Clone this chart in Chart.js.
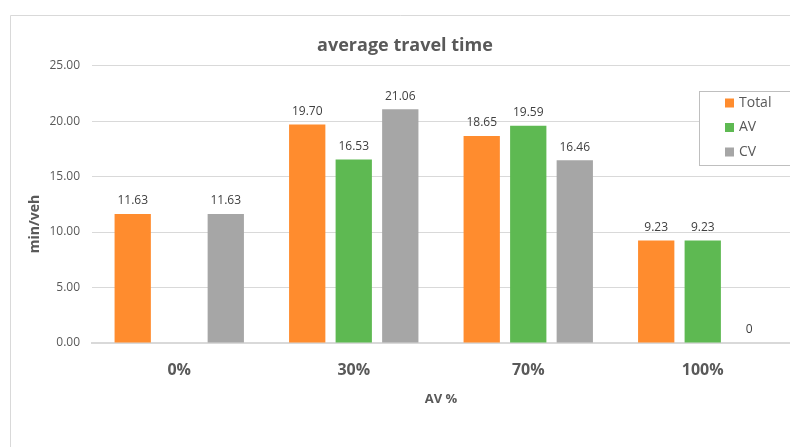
<!DOCTYPE html>
<html>
<head>
<meta charset="utf-8">
<script src="https://cdn.jsdelivr.net/npm/chart.js@4.4.0/dist/chart.umd.min.js"></script>
<style>
    html, body { margin: 0; padding: 0; background: #ffffff; }
    #wrap { width: 790px; height: 447px; }
</style>
</head>
<body>
<div id="wrap"><canvas id="travelChart" width="790" height="447"></canvas></div>
<script>
// data
const categories = ['0%', '30%', '70%', '100%'];
const totalValues = [11.63, 19.70, 18.65, 9.23];
const avValues = [null, 16.53, 19.59, 9.23];
const cvValues = [11.63, 21.06, 16.46, 0];
const yTicks = [0, 5, 10, 15, 20, 25];

const textColor = '#595959';
const gridColor = '#d9d9d9';
const fontFamily = '"Open Sans", "Noto Sans", sans-serif';

// frame round the whole chart + y axis title
const framePlugin = {
    id: 'frame',
    beforeDraw(chart) {
        const ctx = chart.ctx;
        ctx.save();
        ctx.strokeStyle = gridColor;
        ctx.lineWidth = 1;
        ctx.beginPath();
        ctx.moveTo(10.5, chart.height);
        ctx.lineTo(10.5, 15.5);
        ctx.lineTo(chart.width, 15.5);
        ctx.stroke();
        // y title a bit under the middle, like the original
        ctx.translate(35, 224);
        ctx.rotate(-Math.PI / 2);
        ctx.font = 'bold 14px ' + fontFamily;
        ctx.fillStyle = textColor;
        ctx.textAlign = 'center';
        ctx.textBaseline = 'middle';
        ctx.fillText('min/veh', 0, 0);
        ctx.restore();
    }
};

// numbers above the bars
const valueLabels = {
    id: 'valueLabels',
    afterDatasetsDraw(chart) {
        const ctx = chart.ctx;
        ctx.save();
        ctx.font = '12px ' + fontFamily;
        ctx.fillStyle = '#404040';
        ctx.textAlign = 'center';
        ctx.textBaseline = 'middle';
        chart.data.datasets.forEach((ds, i) => {
            const meta = chart.getDatasetMeta(i);
            meta.data.forEach((bar, j) => {
                const v = ds.data[j];
                if (v === null || v === undefined) return;
                const txt = v === 0 ? '0' : v.toFixed(2);
                ctx.fillText(txt, bar.x, bar.y - 13);
            });
        });
        ctx.restore();
    }
};

// legend box on the right
const boxLegend = {
    id: 'boxLegend',
    afterDraw(chart) {
        const ctx = chart.ctx;
        ctx.save();
        ctx.fillStyle = '#ffffff';
        ctx.fillRect(699.5, 91.5, 110, 74);
        ctx.strokeStyle = '#bfbfbf';
        ctx.lineWidth = 1;
        ctx.strokeRect(699.5, 91.5, 110, 74);
        ctx.font = '14px ' + fontFamily;
        ctx.textBaseline = 'middle';
        ctx.textAlign = 'left';
        chart.data.datasets.forEach((ds, i) => {
            const y = 103 + i * 24.5;
            ctx.fillStyle = ds.backgroundColor;
            ctx.fillRect(725, y - 4.5, 9, 9);
            ctx.fillStyle = textColor;
            ctx.fillText(ds.label, 739, y);
        });
        ctx.restore();
    }
};

const ctx = document.getElementById('travelChart').getContext('2d');
new Chart(ctx, {
    type: 'bar',
    data: {
        labels: categories,
        datasets: [
            { label: 'Total', data: totalValues, backgroundColor: 'rgb(255, 140, 46)' },
            { label: 'AV', data: avValues, backgroundColor: 'rgb(94, 185, 82)' },
            { label: 'CV', data: cvValues, backgroundColor: 'rgb(166, 166, 166)' }
        ]
    },
    options: {
        responsive: false,
        animation: false,
        categoryPercentage: 0.8,
        barPercentage: 0.78,
        layout: { padding: { left: 20, right: 0, top: 0, bottom: 40 } },
        plugins: {
            legend: { display: false },
            tooltip: { enabled: false },
            title: {
                display: true,
                text: 'average travel time',
                color: textColor,
                font: { family: fontFamily, size: 18, weight: 'bold' },
                padding: { top: 35, bottom: 9 }
            }
        },
        scales: {
            x: {
                grid: { display: false, drawTicks: false },
                border: { color: gridColor, width: 2 },
                afterFit(scale) { scale.height = 64; },
                ticks: {
                    color: textColor,
                    padding: 18,
                    font: { family: fontFamily, size: 16, weight: 'bold' }
                },
                title: {
                    display: true,
                    text: 'AV %',
                    color: textColor,
                    padding: { top: 0, bottom: 0 },
                    font: { family: fontFamily, size: 13, weight: 'bold' }
                }
            },
            y: {
                min: 0,
                max: 25,
                afterBuildTicks(scale) {
                    scale.ticks = yTicks.map(v => ({ value: v }));
                },
                afterFit(scale) { scale.width = 72; },
                grid: { color: gridColor, drawTicks: false },
                border: { display: false },
                ticks: {
                    color: textColor,
                    padding: 12,
                    font: { family: fontFamily, size: 12 },
                    callback: v => Number(v).toFixed(2)
                }
            }
        }
    },
    plugins: [framePlugin, valueLabels, boxLegend]
});
</script>
</body>
</html>
